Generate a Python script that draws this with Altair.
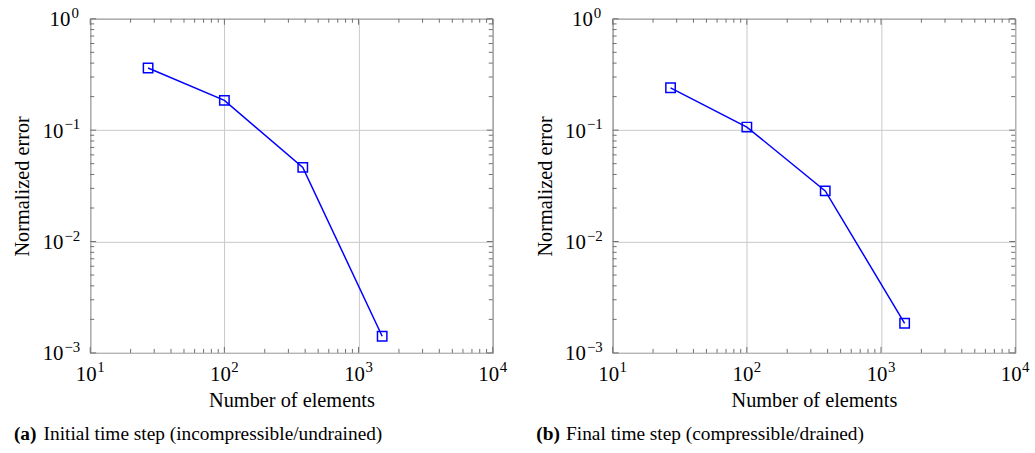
import altair as alt
import pandas as pd

# Mesh sizes and normalized errors for the two time steps
elements = [27, 100, 384, 1500]
err_initial = [0.362, 0.185, 0.0463, 0.00141]
err_final = [0.240, 0.1066, 0.0285, 0.001845]

# Decade ticks with their exponents, plus the minor ticks in between
x_major = [10, 100, 1000, 10000]
x_exps = ["1", "2", "3", "4"]
x_minor = [m * d for d in (10, 100, 1000) for m in range(2, 10)]
y_major = [0.001, 0.01, 0.1, 1]
y_exps = ["−3", "−2", "−1", "0"]
y_minor = [m * d for d in (0.001, 0.01, 0.1) for m in range(2, 10)]

captions = [
    ("(a)", "Initial time step (incompressible/undrained)"),
    ("(b)", "Final time step (compressible/drained)"),
]

W, H = 406, 337
FONT = "Liberation Serif"
BLUE = "#0000ff"
TICK = "#6e6e6e"
BASE_SIZE = 21
EXP_SIZE = 15

x_scale = alt.Scale(type="log", domain=[10, 10000], nice=False)
y_scale = alt.Scale(type="log", domain=[0.001, 1], nice=False)


def text(size, align, dx=0, dy=0, weight="normal"):
    return dict(font=FONT, fontSize=size, fontWeight=weight, align=align,
                baseline="middle", color="black", dx=dx, dy=dy)


def panel(errors, caption):
    df = pd.DataFrame({"elements": elements, "error": errors})
    base = alt.Chart(df)

    x_enc = alt.X(
        "elements:Q", scale=x_scale, title="Number of elements",
        axis=alt.Axis(values=x_major, labels=False, grid=True),
    )
    y_enc = alt.Y(
        "error:Q", scale=y_scale, title="Normalized error",
        axis=alt.Axis(values=y_major, labels=False, grid=True),
    )

    line = base.mark_line(color=BLUE, strokeWidth=1.5).encode(x=x_enc, y=y_enc)
    pts = base.mark_point(
        shape="square", filled=False, color=BLUE, size=90, strokeWidth=1.5, opacity=1
    ).encode(x="elements:Q", y="error:Q")

    layers = [line, pts]

    # inward tick marks on all four sides of the frame
    for vals, length in ((x_minor, 4), (x_major, 6)):
        tdf = pd.DataFrame({"t": vals})
        tx = alt.X("t:Q", scale=x_scale)
        layers.append(alt.Chart(tdf).mark_rule(color=TICK, strokeWidth=1).encode(
            x=tx, y=alt.value(H), y2=alt.value(H - length)))
        layers.append(alt.Chart(tdf).mark_rule(color=TICK, strokeWidth=1).encode(
            x=tx, y=alt.value(0), y2=alt.value(length)))
    for vals, length in ((y_minor, 4), (y_major, 6)):
        tdf = pd.DataFrame({"t": vals})
        ty = alt.Y("t:Q", scale=y_scale)
        layers.append(alt.Chart(tdf).mark_rule(color=TICK, strokeWidth=1).encode(
            y=ty, x=alt.value(0), x2=alt.value(length)))
        layers.append(alt.Chart(tdf).mark_rule(color=TICK, strokeWidth=1).encode(
            y=ty, x=alt.value(W), x2=alt.value(W - length)))

    # tick labels written as 10 with a raised exponent
    xl = alt.Chart(pd.DataFrame({"t": x_major, "e": x_exps}))
    tx = alt.X("t:Q", scale=x_scale)
    layers.append(xl.mark_text(**text(BASE_SIZE, "center", dx=-4)).encode(
        x=tx, y=alt.value(H + 22), text=alt.value("10")))
    layers.append(xl.mark_text(**text(EXP_SIZE, "left", dx=7)).encode(
        x=tx, y=alt.value(H + 14), text="e:N"))

    yl = alt.Chart(pd.DataFrame({"t": y_major, "e": y_exps}))
    ty = alt.Y("t:Q", scale=y_scale)
    for cond, anchor in (("datum.e == '0'", -20), ("datum.e != '0'", -27)):
        sub = yl.transform_filter(cond)
        layers.append(sub.mark_text(**text(BASE_SIZE, "right", dy=1.5)).encode(
            y=ty, x=alt.value(anchor), text=alt.value("10")))
        layers.append(sub.mark_text(**text(EXP_SIZE, "left", dx=1, dy=-6)).encode(
            y=ty, x=alt.value(anchor), text="e:N"))

    # sub-figure caption below the axis title
    tag, cap_text = caption
    cap = alt.Chart(pd.DataFrame({"tag": [tag], "text": [cap_text]}))
    layers.append(cap.mark_text(**text(19.5, "left", weight="bold")).encode(
        text="tag:N", x=alt.value(-77), y=alt.value(419)))
    layers.append(cap.mark_text(**text(19.5, "left")).encode(
        text="text:N", x=alt.value(-47), y=alt.value(419)))

    return alt.layer(*layers).properties(width=W, height=H)


chart = (
    alt.hconcat(panel(err_initial, captions[0]), panel(err_final, captions[1]), spacing=27)
    .properties(padding={"left": 12, "top": 3, "right": 5, "bottom": 5}, background="white")
    .configure_view(stroke="#222222", strokeWidth=1)
    .configure_axis(
        domain=False,
        ticks=False,
        gridColor="#c8c8c8",
        gridWidth=1,
        titleFont=FONT,
        titleFontSize=20.5,
        titleFontWeight="normal",
        titleColor="black",
    )
    .configure_axisX(titlePadding=38)
    .configure_axisY(titlePadding=58)
)

chart.save("out.html", embed_options={"renderer": "svg", "actions": False})
